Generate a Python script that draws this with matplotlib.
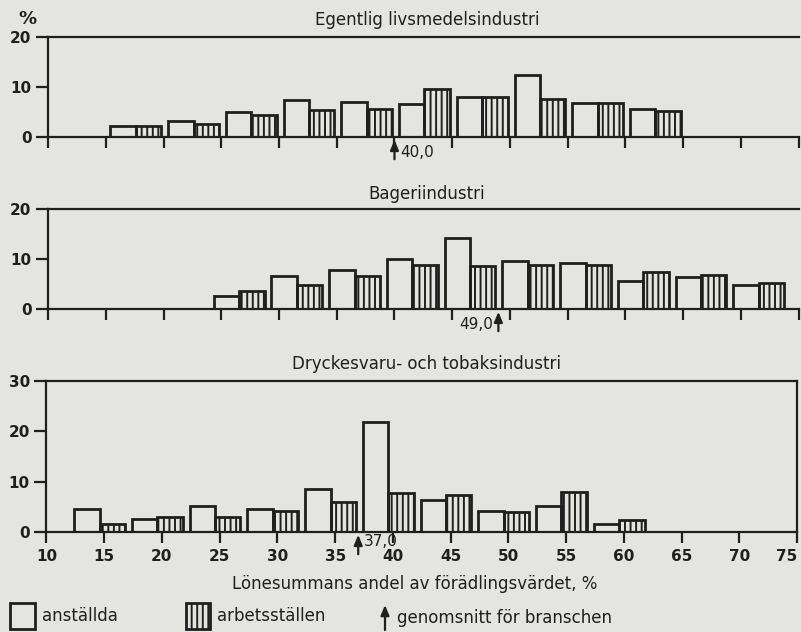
import matplotlib.pyplot as plt
from matplotlib.patches import Rectangle

plt.rcParams['font.family'] = ['DejaVu Sans']
plt.rcParams['hatch.linewidth'] = 1.4
ink = '#1f1f1f'
paper = '#e4e4e2'
plt.rcParams['hatch.color'] = ink

# andel i procent per klass (lönesummans andel av förädlingsvärdet)
bins_liv = [15, 20, 25, 30, 35, 40, 45, 50, 55, 60]
anst_liv = [2.3, 3.3, 5.0, 7.5, 7.0, 6.7, 8.0, 12.3, 6.8, 5.7]
arb_liv = [2.2, 2.7, 4.5, 5.5, 5.7, 9.6, 7.9, 7.7, 6.9, 5.3]
avg_liv = 40.0

bins_bag = [25, 30, 35, 40, 45, 50, 55, 60, 65, 70]
anst_bag = [2.6, 6.6, 7.7, 10.0, 14.1, 9.5, 9.2, 5.6, 6.4, 4.7]
arb_bag = [3.5, 4.7, 6.5, 8.8, 8.5, 8.8, 8.8, 7.3, 6.7, 5.2]
avg_bag = 49.0

bins_dry = [15, 20, 25, 30, 35, 40, 45, 50, 55, 60]
anst_dry = [4.5, 2.5, 5.2, 4.5, 8.5, 21.9, 6.4, 4.1, 5.1, 1.5]
arb_dry = [1.5, 3.0, 3.0, 4.2, 6.0, 7.7, 7.4, 3.9, 7.9, 2.3]
avg_dry = 37.0

titles = ['Egentlig livsmedelsindustri', 'Bageriindustri',
          'Dryckesvaru- och tobaksindustri']
xticks = list(range(10, 80, 5))

fig = plt.figure(figsize=(8.01, 6.32), dpi=100, facecolor=paper)


def panel(rect, title, ty, bins, anst, arb, avg, ymax, shift, side, last):
    ax = fig.add_axes(rect)
    ax.set_facecolor('none')
    w = 2.2
    left = [b + shift for b in bins]
    ax.bar(left, anst, width=w, align='edge', facecolor='none',
           edgecolor=ink, linewidth=2)
    ax.bar([l + w for l in left], arb, width=w, align='edge',
           facecolor='none', edgecolor=ink, linewidth=2, hatch='|||')
    ax.set_xlim(10, 75)
    ax.set_ylim(0, ymax)
    ax.set_xticks(xticks)
    ax.set_yticks(list(range(0, ymax + 1, 10)))
    for s in ['top', 'left', 'bottom', 'right']:
        ax.spines[s].set_color(ink)
        ax.spines[s].set_linewidth(1.6)
    ax.spines['right'].set_visible(last)
    ax.tick_params(axis='x', direction='out', length=8, width=1.6,
                   color=ink, labelsize=11, labelcolor=ink, pad=4,
                   labelbottom=last)
    ax.tick_params(axis='y', direction='out', length=9, width=1.6,
                   color=ink, labelsize=11, labelcolor=ink, pad=3)
    for lab in ax.get_yticklabels() + ax.get_xticklabels():
        lab.set_fontweight('bold')
    if last:
        ax.get_xticklabels()[-1].set_horizontalalignment('right')

    ax.annotate('', xy=(avg, 0), xytext=(0, -16), textcoords='offset points',
                arrowprops=dict(arrowstyle='-|>,head_length=0.6,head_width=0.25',
                                color=ink, lw=1.6, shrinkA=0, shrinkB=2),
                annotation_clip=False)
    txt = f'{avg:.1f}'.replace('.', ',')
    if side == 'right':
        ax.annotate(txt, xy=(avg, 0), xytext=(4, -11.5 if not last else -7),
                    textcoords='offset points', ha='left', va='center',
                    fontsize=11, color=ink, annotation_clip=False)
    else:
        ax.annotate(txt, xy=(avg, 0), xytext=(-4, -11.5),
                    textcoords='offset points', ha='right', va='center',
                    fontsize=11, color=ink, annotation_clip=False)
    fig.text(0.533, ty, title, ha='center', va='center', fontsize=12,
             color=ink)
    return ax


panel([0.060, 0.7832, 0.937, 0.1583], titles[0], 0.968,
      bins_liv, anst_liv, arb_liv, avg_liv, 20, 0.4, 'right', False)
panel([0.060, 0.5111, 0.937, 0.1582], titles[1], 0.693,
      bins_bag, anst_bag, arb_bag, avg_bag, 20, -0.65, 'left', False)
panel([0.058, 0.1582, 0.937, 0.2390], titles[2], 0.424,
      bins_dry, anst_dry, arb_dry, avg_dry, 30, -2.6, 'right', True)

fig.text(27 / 801, 1 - 19 / 632, '%', ha='center', va='center',
         fontsize=13, fontweight='bold', color=ink)
fig.text(415 / 801, 1 - 584 / 632, 'Lönesummans andel av förädlingsvärdet, %',
         ha='center', va='center', fontsize=12, color=ink)

# teckenförklaring
lg = fig.add_axes([0, 0, 1, 1])
lg.set_xlim(0, 801)
lg.set_ylim(632, 0)
lg.axis('off')
lg.set_facecolor('none')
lg.add_patch(Rectangle((10, 603), 25, 26, facecolor='none', edgecolor=ink,
                       linewidth=2))
lg.text(42, 616, 'anställda', va='center', ha='left', fontsize=12, color=ink)
lg.add_patch(Rectangle((186, 603), 24, 26, facecolor='none', edgecolor=ink,
                       linewidth=2, hatch='|||'))
lg.text(217, 616, 'arbetsställen', va='center', ha='left', fontsize=12,
        color=ink)
lg.annotate('', xy=(385, 605), xytext=(385, 630),
            arrowprops=dict(arrowstyle='-|>,head_length=0.6,head_width=0.25',
                            color=ink, lw=1.6, shrinkA=0, shrinkB=0))
lg.text(397, 618, 'genomsnitt för branschen', va='center', ha='left',
        fontsize=12, color=ink)

fig.savefig('out.png', dpi=100, facecolor=paper)
